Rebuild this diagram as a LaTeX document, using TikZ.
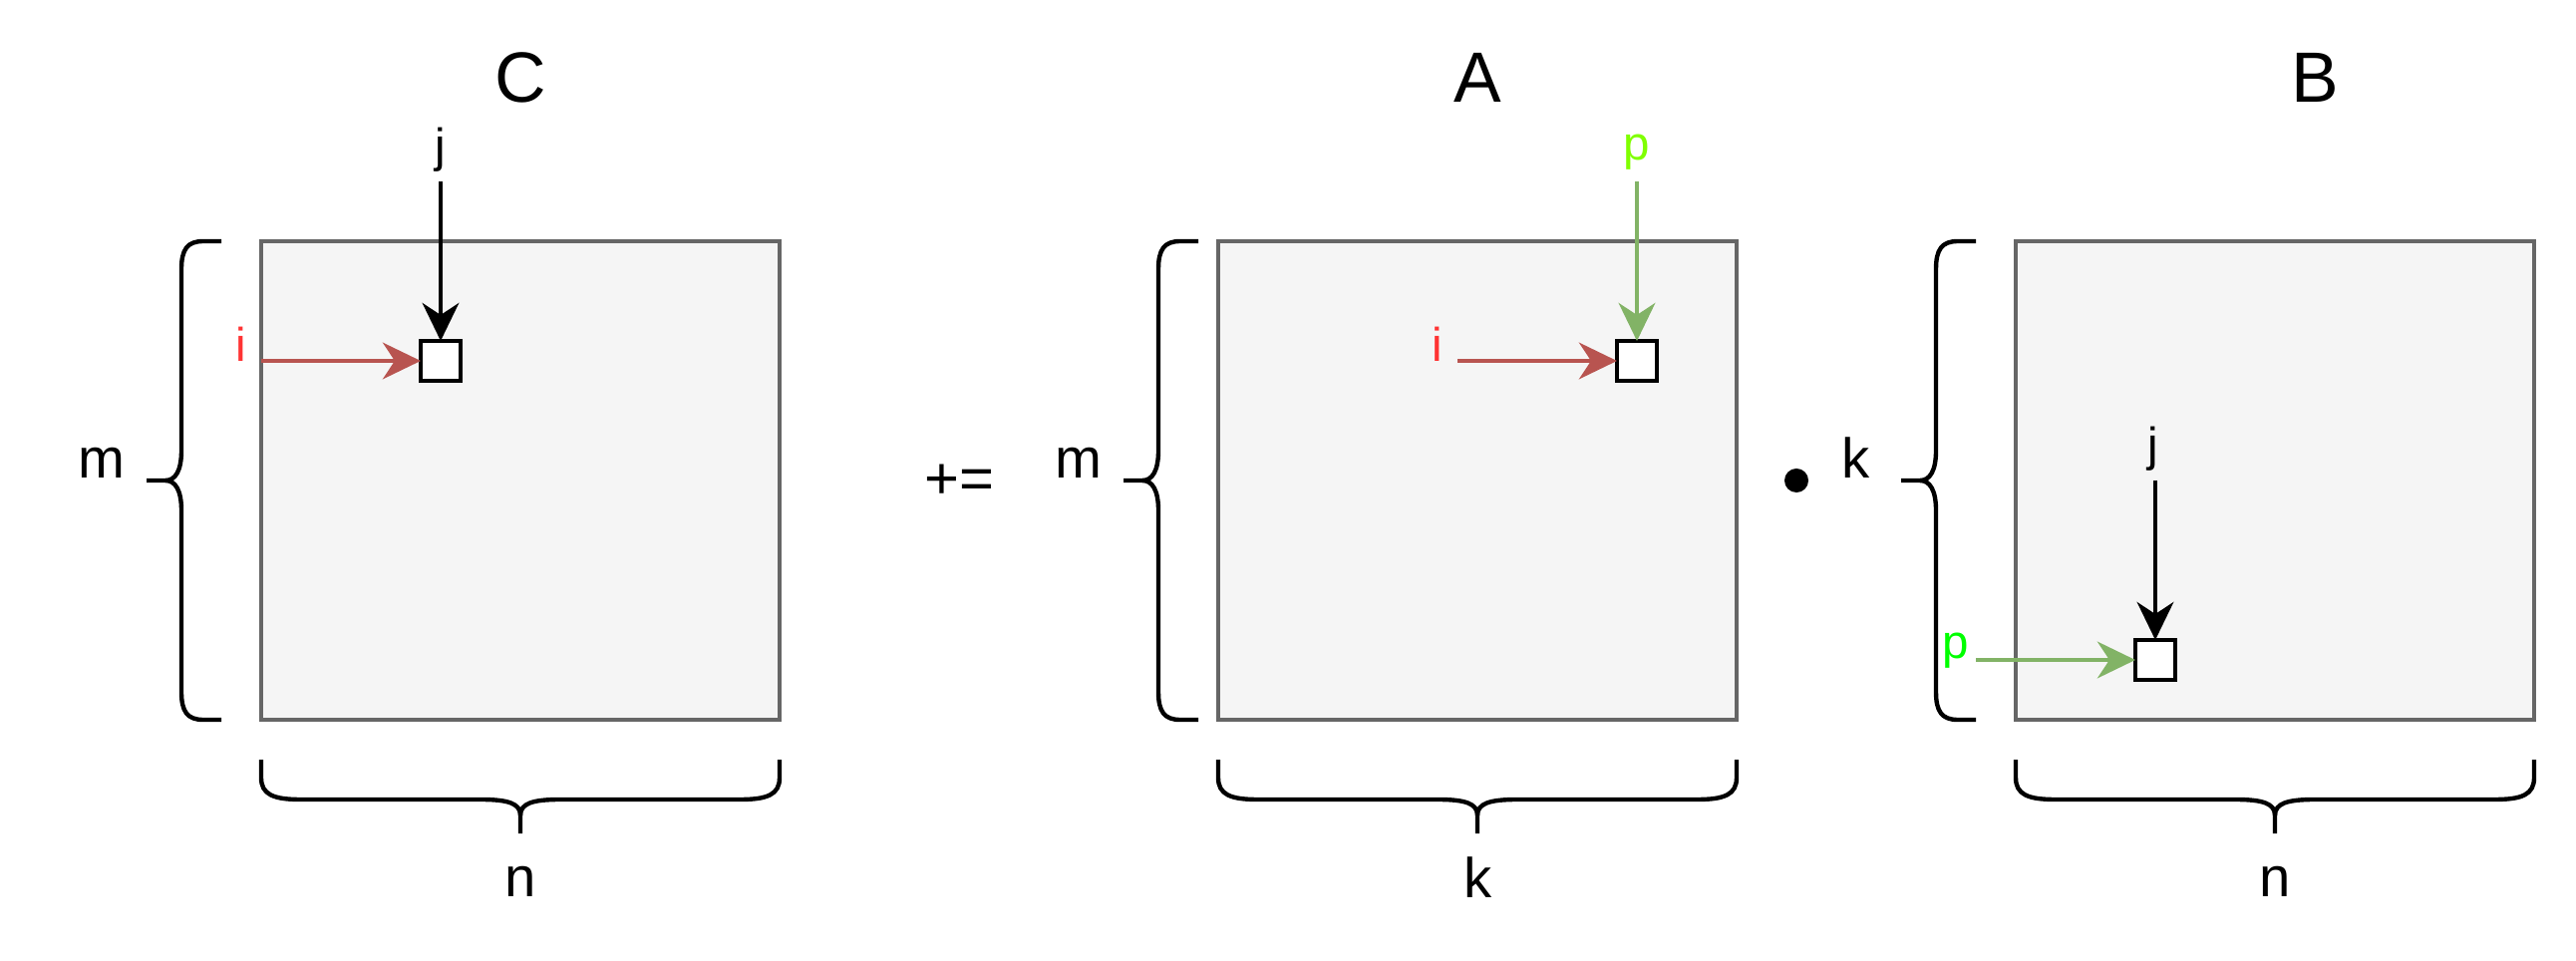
\documentclass[tikz,border=0pt]{standalone}
\usepackage{fontspec}
\setmainfont{Liberation Sans}
\usetikzlibrary{arrows.meta}
\definecolor{mfill}{HTML}{F5F5F5}
\definecolor{mstroke}{HTML}{666666}
\definecolor{redarrow}{HTML}{B85450}
\definecolor{redtext}{HTML}{FF3333}
\definecolor{grnarrow}{HTML}{82B366}
\definecolor{limetext}{HTML}{80FF00}
\definecolor{grntext}{HTML}{00FF00}
\newcommand{\myLeftBrace}[4]{%
  \draw[bracestyle] ({#1+40},#2) -- ({#1+22},#2) .. controls ({#1+6},#2) and (#1,{#2+8}) .. (#1,{#2+28}) -- (#1,{#3-30}) .. controls (#1,{#3-10}) and ({#1-6},#3) .. ({#1-16},#3) -- ({#1-35},#3);
  \draw[bracestyle] ({#1+40},#4) -- ({#1+22},#4) .. controls ({#1+6},#4) and (#1,{#4-8}) .. (#1,{#4-28}) -- (#1,{#3+30}) .. controls (#1,{#3+10}) and ({#1-6},#3) .. ({#1-16},#3);
}
\newcommand{\myBottomBrace}[4]{%
  \draw[bracestyle] (#2,{#1-40}) -- (#2,{#1-22}) .. controls (#2,{#1-5}) and ({#2+12},#1) .. ({#2+40},#1) -- ({#3-40},#1) .. controls ({#3-12},#1) and (#3,{#1+4}) .. (#3,{#1+16}) -- (#3,{#1+34});
  \draw[bracestyle] (#4,{#1-40}) -- (#4,{#1-22}) .. controls (#4,{#1-5}) and ({#4-12},#1) .. ({#4-40},#1) -- ({#3+40},#1) .. controls ({#3+12},#1) and (#3,{#1+4}) .. (#3,{#1+16});
}
\begin{document}
\begin{tikzpicture}[x=0.01cm,y=-0.01cm,
  matbox/.style={draw=mstroke,fill=mfill,line width=1.1pt,minimum width=5.2cm,minimum height=4.8cm,inner sep=0,outer sep=0},
  cellbox/.style={draw=black,fill=white,line width=1.2pt,minimum size=0.4cm,inner sep=0,outer sep=0},
  bracestyle/.style={draw=black,line width=1.25pt,line join=round,line cap=butt},
  tip/.style={-{Stealth[length=10.8pt,width=10.4pt,inset=3.4pt]}},
  blkarrow/.style={tip,draw=black,line width=1.25pt},
  redarr/.style={tip,draw=redarrow,fill=redarrow,line width=1.25pt},
  grnarr/.style={tip,draw=grnarrow,fill=grnarrow,line width=1.25pt},
  smalllbl/.style={font=\fontsize{13.5}{16}\selectfont,inner sep=0,anchor=base},
  midlbl/.style={font=\fontsize{16}{19}\selectfont,inner sep=0,anchor=base},
  titlelbl/.style={font=\fontsize{20.3}{24}\selectfont,inner sep=0,anchor=base}]
\useasboundingbox[fill=white] (0,0) rectangle (2584,964);

% titles
\node[titlelbl] (tC) at (522,103) {C};
\node[titlelbl] (tA) at (1482,103) {A};
\node[titlelbl] (tB) at (2322,103) {B};

% matrices
\node[matbox] (C) at (522,482) {};
\node[matbox] (A) at (1482,482) {};
\node[matbox] (B) at (2282,482) {};

% braces
\myLeftBrace{182}{242}{482}{722}
\myLeftBrace{1162}{242}{482}{722}
\myLeftBrace{1942}{242}{482}{722}
\myBottomBrace{802}{262}{522}{782}
\myBottomBrace{802}{1222}{1482}{1742}
\myBottomBrace{802}{2022}{2282}{2542}

% dimension labels
\node[midlbl] (mC) at (102,480) {m};
\node[midlbl] (mA) at (1082,480) {m};
\node[midlbl] (kB) at (1862,480) {k};
\node[midlbl] (nC) at (522,899) {n};
\node[midlbl] (kA) at (1483,900) {k};
\node[midlbl] (nB) at (2282,899) {n};

% operators
\node[midlbl,font=\fontsize{17}{20}\selectfont] (pe) at (962,501) {+=};
\node[circle,fill=black,inner sep=0,minimum size=0.24cm] (dot) at (1802,482) {};

% cells
\node[cellbox] (cC) at (442,362) {};
\node[cellbox] (cA) at (1642,362) {};
\node[cellbox] (cB) at (2162,662) {};

% index labels
\node[smalllbl] (jC) at (442,163) {j};
\node[smalllbl,text=redtext] (iC) at (242,363) {i};
\node[smalllbl,text=limetext] (pA) at (1642,161) {p};
\node[smalllbl,text=redtext] (iA) at (1442,363) {i};
\node[smalllbl] (jB) at (2160,463) {j};
\node[smalllbl,text=grntext] (pB) at (1962,661) {p};

% arrows
\coordinate (sCj) at (442,182);
\coordinate (sCi) at (262,362);
\coordinate (sAp) at (1642,182);
\coordinate (sAi) at (1462,362);
\coordinate (sBj) at (2162,482);
\coordinate (sBp) at (1982,662);
\draw[blkarrow] (sCj) -- (cC.north);
\draw[redarr] (sCi) -- (cC.west);
\draw[grnarr] (sAp) -- (cA.north);
\draw[redarr] (sAi) -- (cA.west);
\draw[blkarrow] (sBj) -- (cB.north);
\draw[grnarr] (sBp) -- (cB.west);
\end{tikzpicture}
\end{document}
